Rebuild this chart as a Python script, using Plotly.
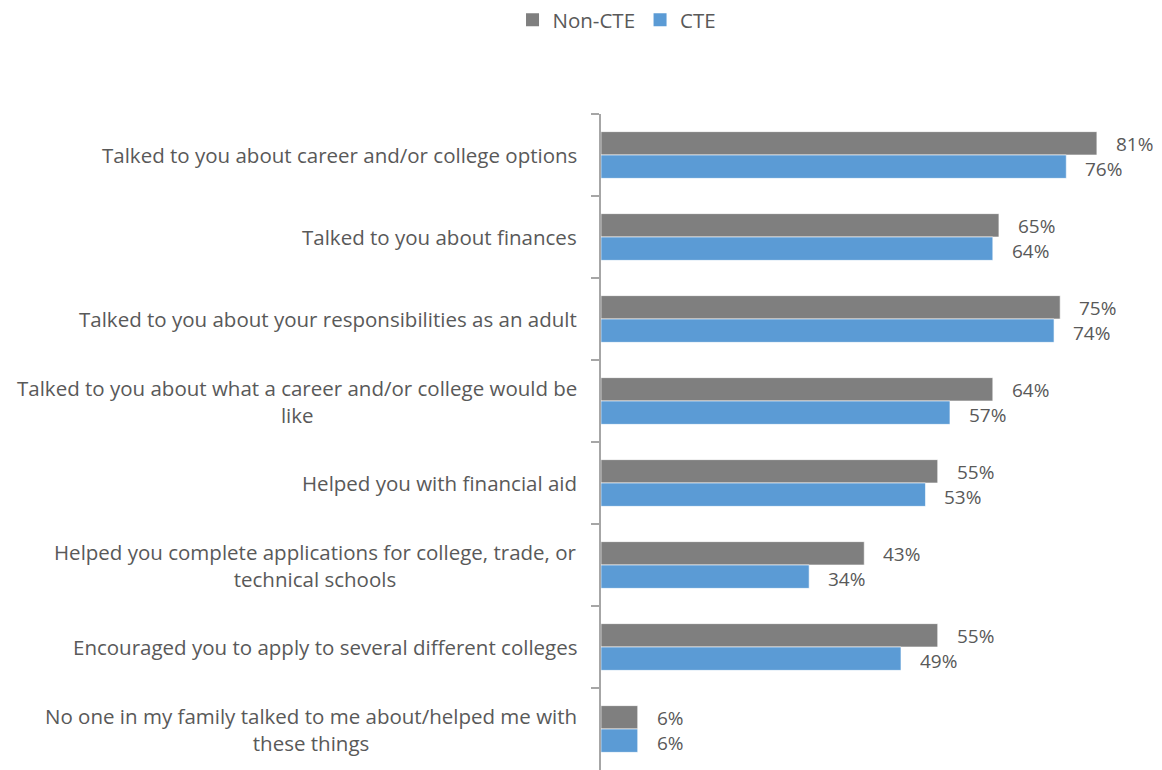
import plotly.graph_objects as go

# Survey items (top to bottom) and percentages per group
categories = [
    "Talked to you about career and/or college options",
    "Talked to you about finances",
    "Talked to you about your responsibilities as an adult",
    "Talked to you about what a career and/or college would be<br>like",
    "Helped you with financial aid",
    "Helped you complete applications for college, trade, or<br>technical schools",
    "Encouraged you to apply to several different colleges",
    "No one in my family talked to me about/helped me with<br>these things",
]
non_cte = [81, 65, 75, 64, 55, 43, 55, 6]
cte = [76, 64, 74, 57, 53, 34, 49, 6]

series_names = ["Non-CTE", "CTE"]
series_colors = ["#7F7F7F", "#5B9BD5"]

FONT = "Open Sans"
TEXT_GRAY = "#595959"
FS = 20.5
FS_VALUE = 19

fig = go.Figure()
for name, vals, color in zip(series_names, [non_cte, cte], series_colors):
    fig.add_trace(go.Bar(
        y=categories, x=vals, name=name, orientation="h",
        marker=dict(color=color, line=dict(color="#FFFFFF", width=0.6)),
        hoverinfo="x+name", showlegend=False,
    ))

# Legend entries with larger square swatches
for name, color in zip(series_names, series_colors):
    fig.add_trace(go.Scatter(
        x=[None], y=[None], mode="markers", name=name,
        marker=dict(symbol="square", size=13, color=color),
    ))

# Category labels, right-aligned against the axis, lines centred
for cat in categories:
    fig.add_annotation(
        x=0, xref="paper", y=cat, yref="y", text=cat,
        xanchor="right", yanchor="middle", align="center", xshift=-22,
        showarrow=False, font=dict(family=FONT, size=FS, color=TEXT_GRAY),
    )

# Value labels just past the end of each bar
for vals, shift in [(non_cte, -12.5), (cte, 12.5)]:
    for cat, v in zip(categories, vals):
        fig.add_annotation(
            x=v, xref="x", y=cat, yref="y", text=f"{v}%",
            xanchor="left", yanchor="middle", xshift=17, yshift=-shift - 1.5,
            height=20, valign="middle",
            showarrow=False, font=dict(family=FONT, size=FS_VALUE, color=TEXT_GRAY),
        )

fig.update_layout(
    width=1162, height=770,
    margin=dict(l=601, r=10, t=114, b=0),
    paper_bgcolor="white", plot_bgcolor="white",
    barmode="group", bargap=0.43, bargroupgap=0,
    font=dict(family=FONT, color=TEXT_GRAY),
    legend=dict(
        orientation="h", xref="container", yref="container",
        x=0.531, y=1.0, xanchor="center", yanchor="top",
        font=dict(family=FONT, size=FS, color=TEXT_GRAY),
        itemwidth=30, traceorder="normal",
    ),
    xaxis=dict(range=[0, 90], showgrid=False, zeroline=False,
               showticklabels=False, showline=False, ticks=""),
    yaxis=dict(autorange="reversed", showticklabels=False, showgrid=False,
               showline=True, linecolor="#A6A6A6", linewidth=1.5,
               ticks="outside", tickson="boundaries", ticklen=8,
               tickcolor="#A6A6A6", tickwidth=1.5),
)

fig.write_html("out.html")
